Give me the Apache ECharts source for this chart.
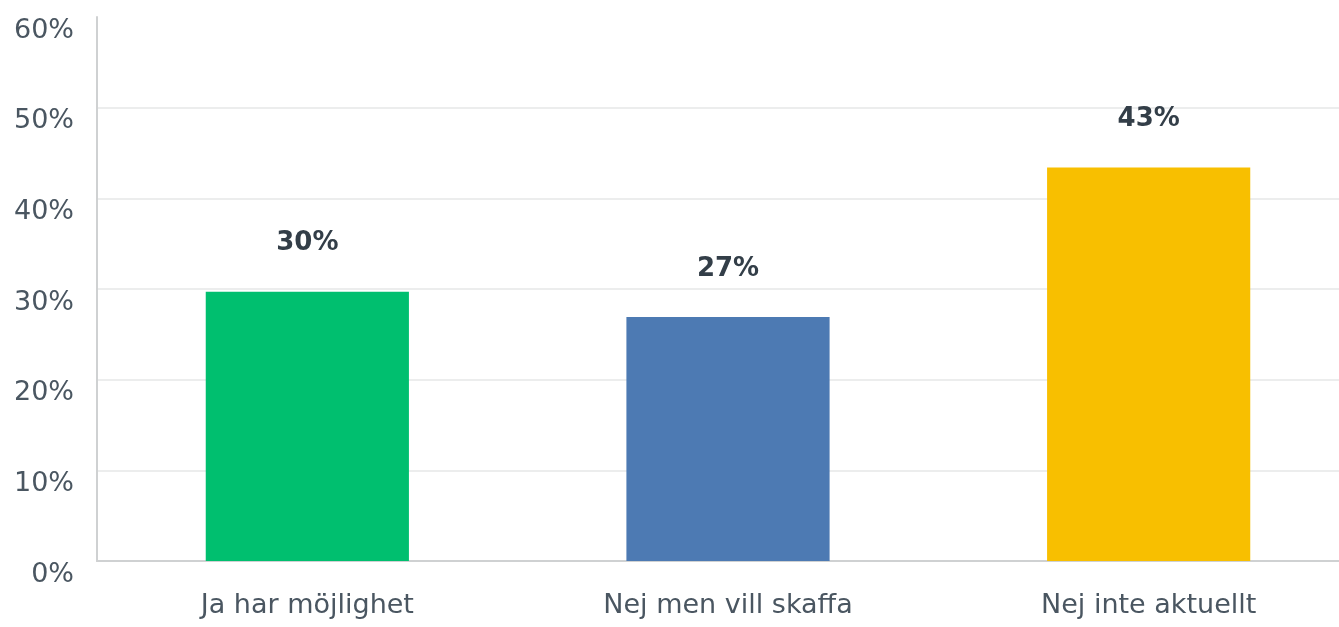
<!DOCTYPE html>
<html>
<head>
<meta charset="utf-8">
<script src="https://cdn.jsdelivr.net/npm/echarts@6/dist/echarts.min.js"></script>
<style>
  html, body { margin: 0; padding: 0; background: #fff; }
  #chart { width: 1339px; height: 627px; }
</style>
</head>
<body>
<div id="chart"></div>
<script>
// data
const categories = ['Ja har möjlighet', 'Nej men vill skaffa', 'Nej inte aktuellt']
const values = [29.7, 26.9, 43.4]
const barColors = ['#00bf6f', '#4d7ab3', '#f8bf00']
const yTicks = [0, 10, 20, 30, 40, 50, 60]

const chart = echarts.init(document.getElementById('chart'))

chart.setOption({
  animation: false,
  textStyle: { fontFamily: 'DejaVu Sans' },
  // plot runs a bit past the right edge, like the original
  grid: { left: 97, right: -20, top: 17, bottom: 66, outerBoundsMode: 'none' },
  xAxis: {
    type: 'category',
    data: categories,
    axisLine: { lineStyle: { color: '#cfd1d2', width: 2 } },
    axisTick: { show: false },
    axisLabel: { color: '#4a5661', fontSize: 27, margin: 31 }
  },
  yAxis: {
    type: 'value',
    min: yTicks[0],
    max: yTicks[yTicks.length - 1],
    interval: 10,
    axisLine: { show: true, lineStyle: { color: '#cfd1d2', width: 2 } },
    axisTick: { show: false },
    splitLine: { showMaxLine: false, lineStyle: { color: '#eceded', width: 2 } },
    axisLabel: {
      color: '#4a5661',
      fontSize: 27,
      margin: 23,
      verticalAlign: 'top',
      formatter: '{value}%'
    }
  },
  series: [{
    type: 'bar',
    barWidth: '48.3%',
    data: values.map((v, i) => ({ value: v, itemStyle: { color: barColors[i] } })),
    label: {
      show: true,
      position: 'top',
      distance: 35,
      color: '#333e48',
      fontSize: 26,
      fontWeight: 'bold',
      formatter: p => Math.round(p.value) + '%'
    }
  }]
})
</script>
</body>
</html>
